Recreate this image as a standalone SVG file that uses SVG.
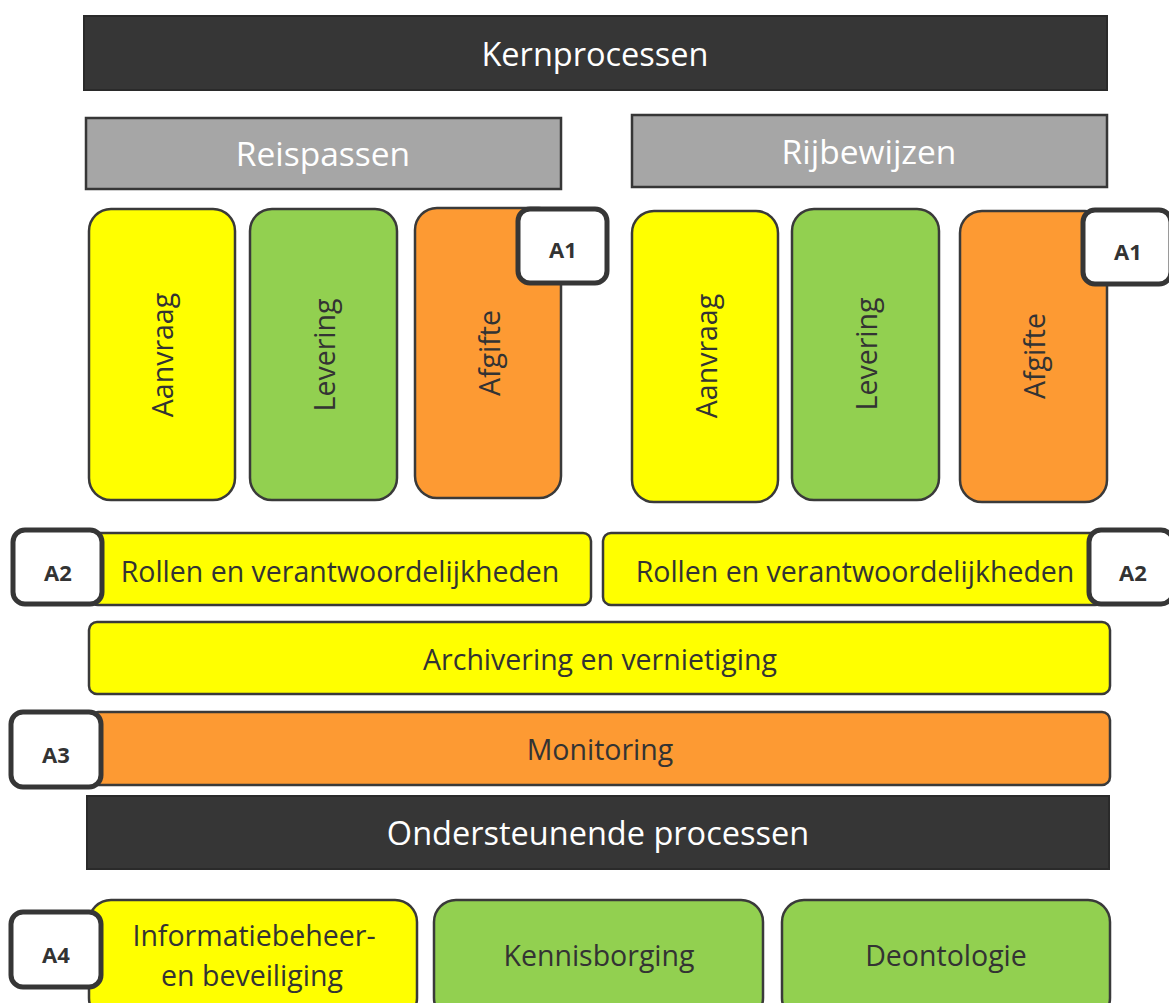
<svg xmlns="http://www.w3.org/2000/svg" width="1169" height="1003" viewBox="0 0 1169 1003">
<style>
text{font-family:"Open Sans","Noto Sans","Liberation Sans",sans-serif;text-anchor:middle;dominant-baseline:central;fill:#333}
.hd{fill:#363636;stroke:#2a2a2a;stroke-width:2}
.sub{fill:#a6a6a6;stroke:#363636;stroke-width:2.5}
.y{fill:#ffff00;stroke:#3a3a3a;stroke-width:2.5}
.g{fill:#92d050;stroke:#3a3a3a;stroke-width:2.5}
.o{fill:#fd9a33;stroke:#3a3a3a;stroke-width:2.5}
.b{fill:#fff;stroke:#363636;stroke-width:5}
.wt{fill:#fff;font-size:32.5px}
.ws{fill:#fff;font-size:33.5px}
.t{font-size:28.5px}
.bt{font-size:22px;font-weight:bold}
</style>
<g id="kernprocessen"><rect class="hd" x="84" y="16" width="1023" height="74"/><text class="wt" x="595" y="53">Kernprocessen</text></g>
<g id="reispassen"><rect class="sub" x="86" y="118" width="475" height="71"/><text class="ws" x="323" y="153">Reispassen</text></g>
<g id="rijbewijzen"><rect class="sub" x="632" y="115" width="475" height="72"/><text class="ws" x="869" y="151">Rijbewijzen</text></g>
<g id="aanvraag1"><rect class="y" x="89" y="209" width="146" height="291" rx="22"/><text class="t" transform="translate(162,355) rotate(-90)">Aanvraag</text></g>
<g id="levering1"><rect class="g" x="250" y="209" width="147" height="291" rx="22"/><text class="t" transform="translate(324,355) rotate(-90)">Levering</text></g>
<g id="afgifte1"><rect class="o" x="415" y="208" width="146" height="290" rx="22"/><text class="t" transform="translate(489,353) rotate(-90)">Afgifte</text></g>
<g id="a1-left"><rect class="b" x="518" y="209" width="89" height="74" rx="12"/><text class="bt" x="563" y="249">A1</text></g>
<g id="aanvraag2"><rect class="y" x="632" y="211" width="146" height="291" rx="22"/><text class="t" transform="translate(706,356) rotate(-90)">Aanvraag</text></g>
<g id="levering2"><rect class="g" x="792" y="209" width="147" height="291" rx="22"/><text class="t" transform="translate(866,354) rotate(-90)">Levering</text></g>
<g id="afgifte2"><rect class="o" x="960" y="211" width="147" height="291" rx="22"/><text class="t" transform="translate(1034,356) rotate(-90)">Afgifte</text></g>
<g id="a1-right"><rect class="b" x="1083" y="210" width="88" height="74" rx="12"/><text class="bt" x="1128" y="251">A1</text></g>
<g id="rollen1"><rect class="y" x="90" y="533" width="501" height="72" rx="8"/><text class="t" x="340" y="571">Rollen en verantwoordelijkheden</text></g>
<g id="a2-left"><rect class="b" x="13" y="530" width="89" height="74" rx="12"/><text class="bt" x="58" y="572">A2</text></g>
<g id="rollen2"><rect class="y" x="603" y="533" width="500" height="72" rx="8"/><text class="t" x="855" y="571">Rollen en verantwoordelijkheden</text></g>
<g id="a2-right"><rect class="b" x="1089" y="530" width="84" height="74" rx="12"/><text class="bt" x="1133" y="572">A2</text></g>
<g id="archivering"><rect class="y" x="89" y="622" width="1021" height="72" rx="8"/><text class="t" x="600" y="659">Archivering en vernietiging</text></g>
<g id="monitoring"><rect class="o" x="90" y="712" width="1020" height="73" rx="8"/><text class="t" x="600" y="749">Monitoring</text></g>
<g id="a3"><rect class="b" x="11" y="712" width="90" height="75" rx="12"/><text class="bt" x="56" y="754">A3</text></g>
<g id="ondersteunende"><rect class="hd" x="87" y="796" width="1022" height="73"/><text class="wt" x="598" y="832">Ondersteunende processen</text></g>
<g id="informatiebeheer"><rect class="y" x="89" y="900" width="328" height="120" rx="22"/><text class="t" x="254" y="935">Informatiebeheer-</text><text class="t" x="252" y="975">en beveiliging</text></g>
<g id="a4"><rect class="b" x="11" y="912" width="90" height="75" rx="12"/><text class="bt" x="56" y="954">A4</text></g>
<g id="kennisborging"><rect class="g" x="434" y="900" width="329" height="120" rx="22"/><text class="t" x="599" y="955">Kennisborging</text></g>
<g id="deontologie"><rect class="g" x="782" y="900" width="328" height="120" rx="22"/><text class="t" x="946" y="955">Deontologie</text></g>
<g id="connectors"/>
</svg>
